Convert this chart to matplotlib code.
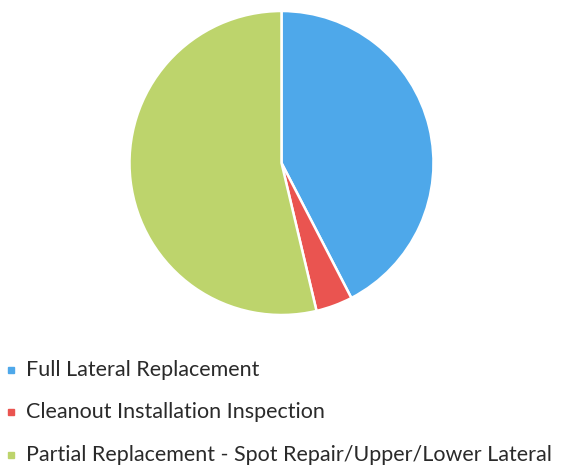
import matplotlib.pyplot as plt
from matplotlib.patches import Rectangle

labels = ['Full Lateral Replacement',
          'Cleanout Installation Inspection',
          'Partial Replacement - Spot Repair/Upper/Lower Lateral']
shares = [42.4, 3.9, 53.7]
colors = ['#4ea8ea', '#ea5450', '#bdd46c']

W, H = 564, 475
fig = plt.figure(figsize=(W / 100, H / 100), dpi=100)

# pie centred at (281, 163) px, radius 152 px
cx, cy, r = 281.5, 163, 152
ax = fig.add_axes([(cx - r) / W, (H - cy - r) / H, 2 * r / W, 2 * r / H])
ax.pie(shares, colors=colors, startangle=90, counterclock=False,
       wedgeprops=dict(edgecolor='white', linewidth=1.8))
ax.set_xlim(-1, 1)
ax.set_ylim(-1, 1)
ax.set_aspect('equal')
ax.axis('off')

# legend rows
rows_y = [370, 412, 455]
for lab, col, y in zip(labels, colors, rows_y):
    fig.add_artist(Rectangle((8 / W, (H - y - 3) / H), 6 / W, 6 / H,
                             transform=fig.transFigure, color=col))
    fig.text(26 / W, (H - y) / H, lab, fontsize=15.5, family='Lato',
             color='#2a2a2a', va='center', ha='left')

fig.savefig('out.png', dpi=100)
